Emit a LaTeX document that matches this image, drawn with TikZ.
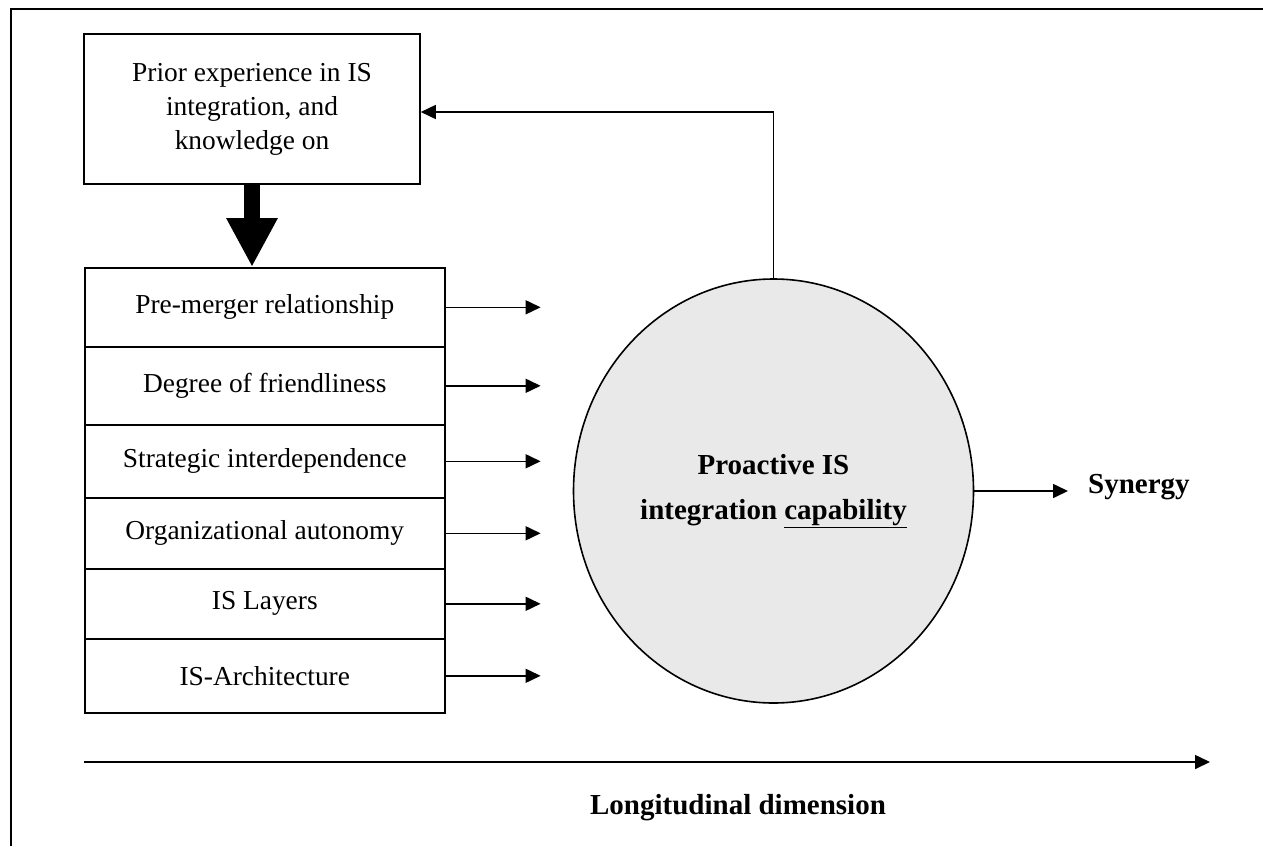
\documentclass[tikz,border=0pt]{standalone}
\usepackage{fontspec}
\setmainfont{Liberation Serif}
\usetikzlibrary{arrows.meta,shapes.geometric}
\definecolor{capfill}{RGB}{233,233,233}
\tikzset{
  ln/.style={line width=1.6pt},
  arr/.style={ln,-{Triangle[length=15pt,width=14pt]}},
  txt/.style={font=\fontsize{27.4}{34}\selectfont},
  boldtxt/.style={font=\fontsize{29}{45}\selectfont\bfseries},
  rowbox/.style={draw,ln,txt,minimum width=360pt,inner sep=0pt,anchor=north west},
}
\begin{document}
\begin{tikzpicture}[x=1pt,y=-1pt]
  \useasboundingbox (0,0) rectangle (1263,846);
  % open outer frame
  \draw[line width=2pt] (11,846) -- (11,9) -- (1263,9);

  % prior experience box
  \node[draw,ln,txt,align=center,minimum width=336pt,minimum height=150pt,inner sep=0pt]
    (prior) at (252,109) {Prior experience in IS\\integration, and\\knowledge on};

  % stack of factors
  \node[rowbox,minimum height=79pt] (r1) at (84,267) {Pre-merger relationship};
  \node[rowbox,minimum height=78pt] (r2) at (84,346) {Degree of friendliness};
  \node[rowbox,minimum height=73pt] (r3) at (84,424) {Strategic interdependence};
  \node[rowbox,minimum height=71pt] (r4) at (84,497) {Organizational autonomy};
  \node[rowbox,minimum height=70pt] (r5) at (84,568) {IS Layers};
  \node[rowbox,minimum height=74pt] (r6) at (84,638) {IS-Architecture};

  % thick arrow from prior experience to the factors
  \draw[line width=16pt,-{Triangle[length=49pt,width=48pt]}] (prior.south) -- (prior.south |- r1.north);

  % factor arrows
  \foreach \r in {r1,r2,r3,r4,r5,r6}
    \draw[arr] (\r.east) -- ++(95,0);

  % capability circle
  \node[ellipse,draw,ln,fill=capfill,minimum width=400pt,minimum height=424pt,inner sep=0pt,
        align=center,boldtxt] (cap) at (773.5,491)
        {Proactive IS\\integration \underline{capability}};

  % synergy
  \node[boldtxt,inner xsep=20pt,inner ysep=0pt,anchor=west] (syn) at (1068,487) {Synergy};
  \draw[arr] (cap.east) -- (cap.east -| syn.west);

  % feedback loop
  \draw[arr] (cap.north) |- ([yshift=-3pt]prior.east);

  % longitudinal axis
  \coordinate (ax0) at (84,762);
  \coordinate (ax1) at (1210,762);
  \draw[arr] (ax0) -- (ax1);
  \node[boldtxt] (lon) at (738,808) {Longitudinal dimension};
\end{tikzpicture}
\end{document}
